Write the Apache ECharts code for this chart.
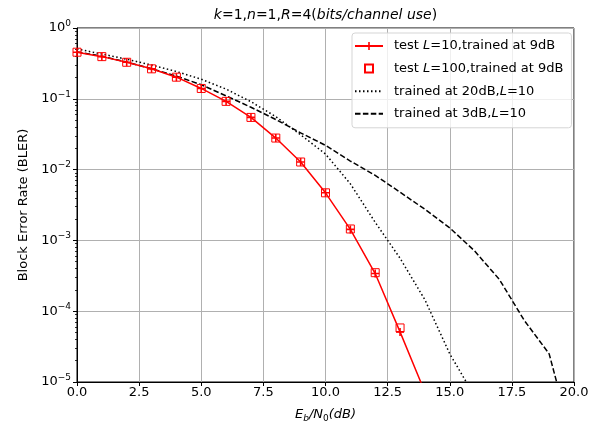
<!DOCTYPE html>
<html>
<head>
<meta charset="utf-8">
<script src="https://cdn.jsdelivr.net/npm/echarts@6/dist/echarts.min.js"></script>
<style>
  html, body { margin: 0; padding: 0; background: #fff; }
  #chart { width: 600px; height: 428px; }
</style>
</head>
<body>
<div id="chart"></div>
<script>
// Eb/N0 in dB for every curve
const snrL10 = [0, 1, 2, 3, 4, 5, 6, 7, 8, 9, 10, 11, 12, 13, 14];
const snrL100 = [0, 1, 2, 3, 4, 5, 6, 7, 8, 9, 10, 11, 12, 13];
const snr20dB = [0, 1, 2, 3, 4, 5, 6, 7, 8, 9, 10, 11, 12, 13, 14, 15, 16];
const snr3dB = [0, 1, 2, 3, 4, 5, 6, 7, 8, 9, 10, 11, 12, 13, 14, 15, 16, 17, 18, 19, 20];

// BLER values
const blerL10 = [0.455, 0.394, 0.328, 0.265, 0.202, 0.140, 0.092, 0.0546, 0.0279, 0.0128, 0.0047, 0.00143, 0.00034, 5.1e-5, 7.2e-6];
const blerL100 = [0.455, 0.394, 0.328, 0.265, 0.202, 0.140, 0.092, 0.0546, 0.0279, 0.0128, 0.0047, 0.00145, 0.00035, 5.8e-5];
const bler20dB = [0.505, 0.43, 0.362, 0.30, 0.243, 0.189, 0.137, 0.091, 0.056, 0.031, 0.0166, 0.0063, 0.0018, 5.6e-4, 1.45e-4, 2.5e-5, 6.3e-6];
const bler3dB = [0.46, 0.40, 0.33, 0.266, 0.209, 0.158, 0.11, 0.076, 0.051, 0.033, 0.022, 0.0132, 0.0083, 0.0048, 0.00275, 0.0015, 7.1e-4, 2.8e-4, 7.4e-5, 2.5e-5, 1.2e-6];

const seriesNames = ['test L=10,trained at 9dB', 'test L=100,trained at 9dB', 'trained at 20dB,L=10', 'trained at 3dB,L=10'];

// minor ticks at 2..9 x 10^n
const minorTicks = [];
for (let e = -5; e < 0; e++) {
  for (let m = 2; m <= 9; m++) minorTicks.push(m * Math.pow(10, e));
}

const pairs = (xs, ys) => xs.map((x, i) => [x, ys[i]]);
const font = 'DejaVu Sans';
const plus = 'path://M4,0H6V4H10V6H6V10H4V6H0V4H4Z';

const chart = echarts.init(document.getElementById('chart'));
const option = {
  animation: false,
  textStyle: { fontFamily: font, color: '#000' },
  title: {
    text: '{i|k}=1,{i|n}=1,{i|R}=4({i|bits/channel use})',
    left: 325.5,
    top: 8,
    textAlign: 'center',
    padding: 0,
    textStyle: {
      fontFamily: font, fontSize: 14, fontWeight: 'normal', color: '#000',
      rich: { i: { fontFamily: font, fontSize: 14, fontStyle: 'italic', color: '#000' } }
    }
  },
  grid: {
    left: 77, right: 26, top: 28, bottom: 45,
    show: true, borderColor: '#000', borderWidth: 1
  },
  legend: {
    data: [
      { name: seriesNames[0] },
      { name: seriesNames[1] },
      { name: seriesNames[2], itemStyle: { opacity: 0 } },
      { name: seriesNames[3], itemStyle: { opacity: 0 } }
    ],
    orient: 'vertical',
    left: 352,
    top: 33,
    itemWidth: 28,
    itemHeight: 10,
    itemGap: 6.6,
    padding: [5, 8, 6, 2],
    backgroundColor: 'rgba(255,255,255,0.8)',
    borderColor: '#d5d5d5',
    borderWidth: 1,
    borderRadius: 3,
    formatter: name => name.replace('L=', '{i|L}='),
    textStyle: {
      fontFamily: font, fontSize: 13, color: '#000', lineHeight: 16,
      padding: [0, 0, 0, 6],
      rich: { i: { fontFamily: font, fontSize: 13, fontStyle: 'italic', color: '#000', lineHeight: 16 } }
    }
  },
  xAxis: {
    type: 'value',
    min: 0,
    max: 20,
    interval: 2.5,
    name: '{i|E}{s|b}{n|/}{i|N}{s0|0}{n|(}{i|dB}{n|)}',
    nameLocation: 'middle',
    nameGap: 25,
    nameTextStyle: {
      fontFamily: font, fontSize: 13, color: '#000',
      rich: {
        i: { fontFamily: font, fontSize: 13, fontStyle: 'italic', lineHeight: 16, color: '#000' },
        n: { fontFamily: font, fontSize: 13, fontStyle: 'italic', lineHeight: 16, color: '#000' },
        s: { fontFamily: font, fontSize: 9, fontStyle: 'italic', lineHeight: 9, verticalAlign: 'bottom', color: '#000' },
        s0: { fontFamily: font, fontSize: 9, lineHeight: 9, verticalAlign: 'bottom', color: '#000' }
      }
    },
    axisLine: { lineStyle: { color: '#000', width: 1 } },
    axisTick: { length: 4, lineStyle: { color: '#000' } },
    axisLabel: {
      formatter: v => v.toFixed(1),
      fontFamily: font, fontSize: 13, color: '#000', margin: 4
    },
    splitLine: { show: true, lineStyle: { color: '#b0b0b0', width: 1 } }
  },
  yAxis: [
    {
      type: 'log',
      logBase: 10,
      min: 1e-5,
      max: 1,
      name: 'Block Error Rate (BLER)',
      nameLocation: 'middle',
      nameGap: 47,
      nameTextStyle: { fontFamily: font, fontSize: 13, color: '#000' },
      axisLine: { show: true, lineStyle: { color: '#000', width: 1 } },
      axisTick: { length: 4, lineStyle: { color: '#000' } },
      axisLabel: {
        margin: 6,
        formatter: v => '{b|10}{e|' + String(Math.round(Math.log10(v))).replace('-', '\u2212') + '}',
        rich: {
          b: { fontFamily: font, fontSize: 13, color: '#000', lineHeight: 18 },
          e: { fontFamily: font, fontSize: 9, color: '#000', lineHeight: 9, verticalAlign: 'top' }
        }
      },
      splitLine: { show: true, lineStyle: { color: '#b0b0b0', width: 1 } }
    },
    {
      type: 'log',
      logBase: 10,
      min: 1e-5,
      max: 1,
      position: 'left',
      axisLine: { show: false },
      axisLabel: { show: false },
      splitLine: { show: false },
      axisTick: { show: true, length: 2, customValues: minorTicks, lineStyle: { color: '#000', width: 0.8 } }
    }
  ],
  series: [
    {
      name: seriesNames[0],
      type: 'line',
      data: pairs(snrL10, blerL10),
      symbol: plus,
      symbolSize: 8,
      showAllSymbol: true,
      clip: true,
      lineStyle: { color: '#ff0000', width: 1.5 },
      itemStyle: { color: '#ff0000' },
      z: 4
    },
    {
      name: seriesNames[1],
      type: 'line',
      data: pairs(snrL100, blerL100),
      symbol: 'rect',
      symbolSize: 8,
      showAllSymbol: true,
      clip: true,
      lineStyle: { width: 0 },
      itemStyle: { color: 'rgba(255,255,255,0)', borderColor: '#ff0000', borderWidth: 1 },
      z: 5
    },
    {
      name: seriesNames[2],
      type: 'line',
      data: pairs(snr20dB, bler20dB),
      symbol: 'none',
      clip: true,
      lineStyle: { color: '#000', width: 1.5, type: [1.5, 2.5] },
      itemStyle: { color: '#000' },
      z: 3
    },
    {
      name: seriesNames[3],
      type: 'line',
      data: pairs(snr3dB, bler3dB),
      symbol: 'none',
      clip: true,
      lineStyle: { color: '#000', width: 1.5, type: [5.5, 2.4] },
      itemStyle: { color: '#000' },
      z: 3
    }
  ]
};
chart.setOption(option);
</script>
</body>
</html>
